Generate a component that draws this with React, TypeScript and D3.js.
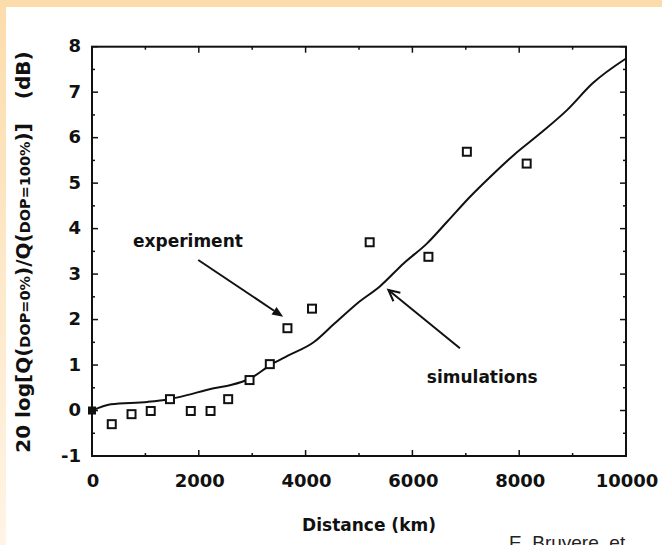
import React from "react";
import * as d3 from "d3";

const simKm = [0, 355, 1040, 1440, 1650, 2280, 2600, 2970, 3340, 3660, 4150, 4530, 4960, 5400, 5840, 6270, 6650, 7080, 7460, 7900, 8390, 8890, 9380, 10000];
const simDb = [0, 0.14, 0.19, 0.25, 0.3, 0.49, 0.56, 0.71, 1.0, 1.2, 1.5, 1.9, 2.35, 2.74, 3.24, 3.67, 4.15, 4.7, 5.14, 5.62, 6.09, 6.6, 7.2, 7.74];

const expKm = [370, 740, 1100, 1460, 1850, 2220, 2550, 2950, 3330, 3660, 4120, 5200, 6300, 7020, 8140];
const expDb = [-0.3, -0.08, -0.01, 0.25, -0.01, -0.01, 0.25, 0.67, 1.02, 1.81, 2.24, 3.7, 3.38, 5.69, 5.43];

const xTicks = [0, 2000, 4000, 6000, 8000, 10000];
const yTicks = [-1, 0, 1, 2, 3, 4, 5, 6, 7, 8];

const FONT = "'DejaVu Sans', sans-serif";
const INK = "#111";

export default function App() {
  const W = 662, H = 545;
  const x = d3.scaleLinear().domain([0, 10000]).range([92, 626]);
  const y = d3.scaleLinear().domain([-1, 8]).range([456, 46.7]);

  const line = d3
    .line<number>()
    .x((_, i) => x(simKm[i]))
    .y((d) => y(d))
    .curve(d3.curveMonotoneX);

  const xMinor = d3.range(0, 10001, 1000);
  const yMinor = d3.range(-1, 8.01, 0.5);

  const arrowExp = { x1: 1990, y1: 3.31, x2: 3580, y2: 2.06 };
  const arrowSim = { x1: 6890, y1: 1.37, x2: 5550, y2: 2.65 };

  const head = (a: typeof arrowExp, len: number, wid: number) => {
    const X1 = x(a.x1), Y1 = y(a.y1), X2 = x(a.x2), Y2 = y(a.y2);
    const ang = Math.atan2(Y2 - Y1, X2 - X1);
    const bx = X2 - len * Math.cos(ang), by = Y2 - len * Math.sin(ang);
    const px = -Math.sin(ang) * wid, py = Math.cos(ang) * wid;
    return { X1, Y1, X2, Y2, bx, by, px, py };
  };
  const he = head(arrowExp, 11, 4.5);
  const hs = head(arrowSim, 11, 5.5);

  return (
    <svg width={W} height={H} style={{ position: "absolute", left: 0, top: 0, display: "block" }}>
      <defs>
        <linearGradient id="lg" x1="0" y1="0" x2="0" y2="1">
          <stop offset="0" stopColor="#fcdcab" />
          <stop offset="1" stopColor="#fff4e6" />
        </linearGradient>
      </defs>
      <rect x={0} y={0} width={W} height={H} fill="#ffffff" />
      <rect x={0} y={0} width={W} height={7} fill="#fcdcab" />
      <rect x={0} y={0} width={6} height={H} fill="url(#lg)" />

      {/* frame */}
      <rect x={x(0)} y={y(8)} width={x(10000) - x(0)} height={y(-1) - y(8)} fill="none" stroke={INK} strokeWidth={2} />

      {/* ticks */}
      {xMinor.map((v) => {
        const L = v % 2000 === 0 ? 6 : 3;
        return (
          <g key={"xt" + v}>
            <line x1={x(v)} x2={x(v)} y1={y(-1)} y2={y(-1) - L} stroke={INK} strokeWidth={1.5} />
            <line x1={x(v)} x2={x(v)} y1={y(8)} y2={y(8) + L} stroke={INK} strokeWidth={1.5} />
          </g>
        );
      })}
      {yMinor.map((v) => {
        const L = Math.abs(v - Math.round(v)) < 1e-6 ? 6 : 3;
        return (
          <g key={"yt" + v}>
            <line x1={x(0)} x2={x(0) + L} y1={y(v)} y2={y(v)} stroke={INK} strokeWidth={1.5} />
            <line x1={x(10000)} x2={x(10000) - L} y1={y(v)} y2={y(v)} stroke={INK} strokeWidth={1.5} />
          </g>
        );
      })}

      {/* tick labels */}
      {xTicks.map((v) => (
        <text key={"xl" + v} x={x(v) + 1} y={487} textAnchor="middle" fontFamily={FONT} fontWeight="bold" fontSize={18} fill={INK}>
          {v}
        </text>
      ))}
      {yTicks.map((v) => (
        <text key={"yl" + v} x={81} y={y(v) + 5.5} textAnchor="end" fontFamily={FONT} fontWeight="bold" fontSize={18} fill={INK}>
          {v}
        </text>
      ))}

      {/* simulation curve */}
      <path d={line(simDb) || ""} fill="none" stroke={INK} strokeWidth={2} />

      {/* experiment points */}
      <rect x={x(0) - 4} y={y(0) - 4} width={8} height={8} fill={INK} />
      {expDb.map((v, i) => (
        <rect key={"p" + i} x={x(expKm[i]) - 4} y={y(v) - 4} width={8} height={8} fill="#fff" stroke={INK} strokeWidth={2} />
      ))}

      {/* annotations */}
      <line x1={he.X1} y1={he.Y1} x2={he.bx} y2={he.by} stroke={INK} strokeWidth={2} />
      <path d={`M${he.X2},${he.Y2}L${he.bx + he.px},${he.by + he.py}L${he.bx - he.px},${he.by - he.py}Z`} fill={INK} />
      <line x1={hs.X1} y1={hs.Y1} x2={hs.X2} y2={hs.Y2} stroke={INK} strokeWidth={2} />
      <path d={`M${hs.bx + hs.px},${hs.by + hs.py}L${hs.X2},${hs.Y2}L${hs.bx - hs.px},${hs.by - hs.py}`} fill="none" stroke={INK} strokeWidth={2} />
      <text x={x(768)} y={y(3.59)} fontFamily={FONT} fontWeight="bold" fontSize={17} fill={INK}>experiment</text>
      <text x={x(6270)} y={y(0.6)} fontFamily={FONT} fontWeight="bold" fontSize={17} fill={INK}>simulations</text>

      {/* axis titles */}
      <text x={369} y={531} textAnchor="middle" fontFamily={FONT} fontWeight="bold" fontSize={17} fill={INK}>Distance (km)</text>
      <text transform="translate(30,252) rotate(-90)" textAnchor="middle" fontFamily={FONT} fontWeight="bold" fontSize={20} fill={INK}>
        <tspan>20 log[Q(</tspan>
        <tspan fontSize={14.5}>DOP=0%</tspan>
        <tspan>)/Q(</tspan>
        <tspan fontSize={14.5}>DOP=100%</tspan>
        <tspan>)]</tspan>
        <tspan dx={24}>(dB)</tspan>
      </text>

      <text x={509} y={549} fontFamily="'Liberation Sans', Arial, sans-serif" fontSize={19} fill="#222">E. Bruyere, et</text>
    </svg>
  );
}
